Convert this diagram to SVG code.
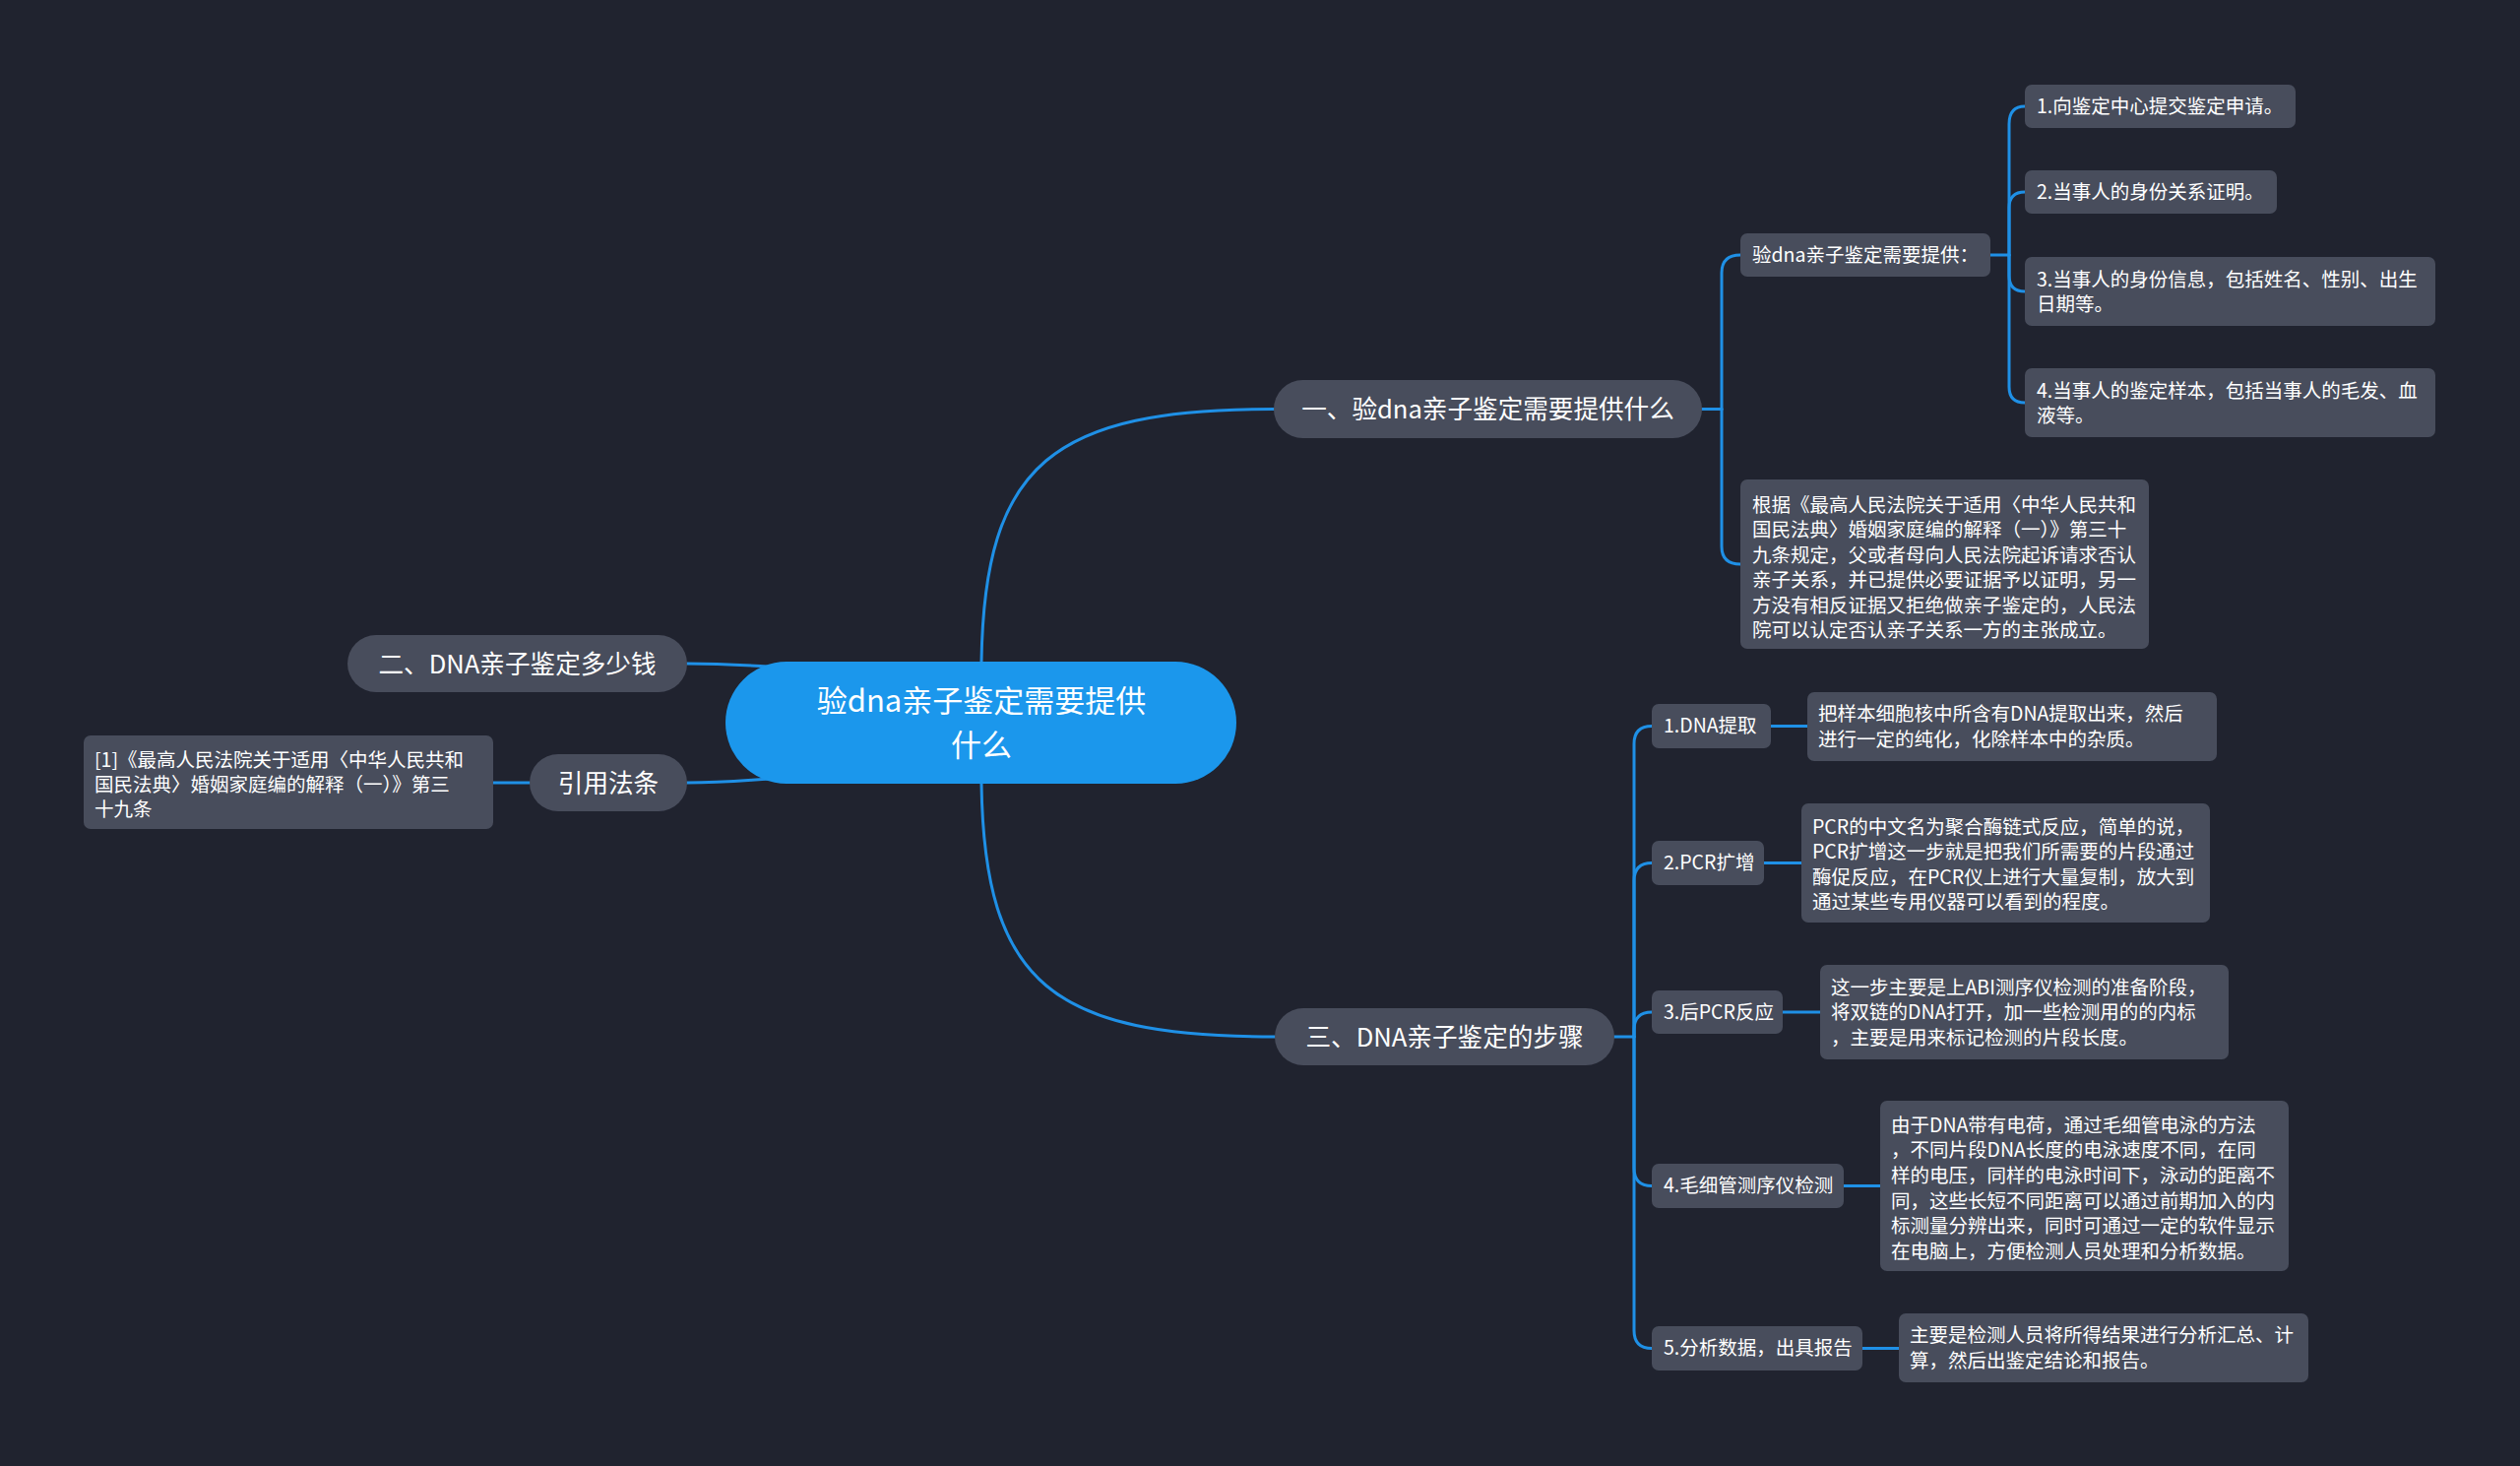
<svg xmlns="http://www.w3.org/2000/svg" width="2560" height="1489" viewBox="0 0 2560 1489">
<style>
text{font-family:"Noto Sans CJK SC","Microsoft YaHei",sans-serif;fill:#ffffff;dominant-baseline:central;transform:translateY(-2px)}
.root rect{fill:#1b97ec}
.l1 rect{fill:#484d5c}
.box rect{fill:#484d5c}
.t-root{font-size:31px;text-anchor:middle}
.t-l1{font-size:25.6px;text-anchor:middle}
.t-s{font-size:19.5px}
.conn path{fill:none;stroke:#1f90e6;stroke-width:3;stroke-linecap:round}
</style>
<rect x="0" y="0" width="2560" height="1489" fill="#20232f"/>
<g id="connectors" class="conn">
<path d="M997,672 C1000,470 1070,415.5 1294,415.5"/>
<path d="M997,796 C1000,1000 1070,1053 1295,1053"/>
<path d="M698,674 C740,674 760,676 800,678"/>
<path d="M698,795 C740,795 760,792 800,790"/>
<path d="M501,795 H538"/>
<path d="M1729,415.5 H1749"/>
<path d="M1749,415.5 V277 Q1749,259 1768,259"/>
<path d="M1749,415.5 V555 Q1749,573 1768,573"/>
<path d="M2022,259 H2041"/>
<path d="M2041,259 V126 Q2041,108 2057,108"/>
<path d="M2041,259 V211 Q2041,195 2057,195"/>
<path d="M2041,259 V280 Q2041,296 2057,296"/>
<path d="M2041,259 V393 Q2041,409 2057,409"/>
<path d="M1640,1053 H1660"/>
<path d="M1660,1053 V755.5 Q1660,737.5 1678,737.5"/>
<path d="M1660,1053 V894.5 Q1660,876.5 1678,876.5"/>
<path d="M1660,1053 V1046 Q1660,1028 1678,1028"/>
<path d="M1660,1053 V1186.5 Q1660,1204.5 1678,1204.5"/>
<path d="M1660,1053 V1351.5 Q1660,1369.5 1678,1369.5"/>
<path d="M1799,737.5 H1836"/>
<path d="M1792,876.5 H1830"/>
<path d="M1811,1028 H1849"/>
<path d="M1873,1204.5 H1910"/>
<path d="M1892,1369.5 H1929"/>
</g>
<g id="root" class="root">
<rect x="737" y="672" width="519" height="124" rx="62"/>
<text class="t-root" x="997" y="711">验dna亲子鉴定需要提供</text>
<text class="t-root" x="997" y="756">什么</text>
</g>
<g id="n1" class="l1">
<rect x="1294" y="386" width="435" height="59" rx="29.5"/>
<text class="t-l1" x="1511.5" y="415.5">一、验dna亲子鉴定需要提供什么</text>
</g>
<g id="n2" class="l1">
<rect x="353" y="645" width="345" height="58" rx="29"/>
<text class="t-l1" x="525.5" y="674">二、DNA亲子鉴定多少钱</text>
</g>
<g id="n3" class="l1">
<rect x="538" y="766" width="160" height="58" rx="29"/>
<text class="t-l1" x="618" y="795">引用法条</text>
</g>
<g id="n4" class="l1">
<rect x="1295" y="1024" width="345" height="58" rx="29"/>
<text class="t-l1" x="1467.5" y="1053">三、DNA亲子鉴定的步骤</text>
</g>
<g id="citation" class="box">
<rect x="85" y="747" width="416" height="95" rx="7"/>
<text class="t-s" x="96" y="772">[1]《最高人民法院关于适用〈中华人民共和</text>
<text class="t-s" x="96" y="797">国民法典〉婚姻家庭编的解释（一）》第三</text>
<text class="t-s" x="96" y="822">十九条</text>
</g>
<g id="c11" class="box">
<rect x="1768" y="237" width="254" height="44" rx="7"/>
<text class="t-s" x="1780" y="259">验dna亲子鉴定需要提供：</text>
</g>
<g id="c12" class="box">
<rect x="1768" y="487" width="415" height="172" rx="7"/>
<text class="t-s" x="1780" y="513">根据《最高人民法院关于适用〈中华人民共和</text>
<text class="t-s" x="1780" y="538.5">国民法典〉婚姻家庭编的解释（一）》第三十</text>
<text class="t-s" x="1780" y="564">九条规定，父或者母向人民法院起诉请求否认</text>
<text class="t-s" x="1780" y="589.5">亲子关系，并已提供必要证据予以证明，另一</text>
<text class="t-s" x="1780" y="615">方没有相反证据又拒绝做亲子鉴定的，人民法</text>
<text class="t-s" x="1780" y="640.5">院可以认定否认亲子关系一方的主张成立。</text>
</g>
<g id="l1" class="box">
<rect x="2057" y="86" width="275" height="44" rx="7"/>
<text class="t-s" x="2069" y="108">1.向鉴定中心提交鉴定申请。</text>
</g>
<g id="l2" class="box">
<rect x="2057" y="173" width="256" height="44" rx="7"/>
<text class="t-s" x="2069" y="195">2.当事人的身份关系证明。</text>
</g>
<g id="l3" class="box">
<rect x="2057" y="261" width="417" height="70" rx="7"/>
<text class="t-s" x="2069" y="284">3.当事人的身份信息，包括姓名、性别、出生</text>
<text class="t-s" x="2069" y="309.5">日期等。</text>
</g>
<g id="l4" class="box">
<rect x="2057" y="374" width="417" height="70" rx="7"/>
<text class="t-s" x="2069" y="397">4.当事人的鉴定样本，包括当事人的毛发、血</text>
<text class="t-s" x="2069" y="422.5">液等。</text>
</g>
<g id="s1" class="box">
<rect x="1678" y="715" width="121" height="45" rx="7"/>
<text class="t-s" x="1690" y="737.5">1.DNA提取</text>
</g>
<g id="s2" class="box">
<rect x="1678" y="854" width="114" height="45" rx="7"/>
<text class="t-s" x="1690" y="876.5">2.PCR扩增</text>
</g>
<g id="s3" class="box">
<rect x="1678" y="1006" width="133" height="44" rx="7"/>
<text class="t-s" x="1690" y="1028">3.后PCR反应</text>
</g>
<g id="s4" class="box">
<rect x="1678" y="1182" width="195" height="45" rx="7"/>
<text class="t-s" x="1690" y="1204.5">4.毛细管测序仪检测</text>
</g>
<g id="s5" class="box">
<rect x="1678" y="1347" width="214" height="45" rx="7"/>
<text class="t-s" x="1690" y="1369.5">5.分析数据，出具报告</text>
</g>
<g id="d1" class="box">
<rect x="1836" y="703" width="416" height="70" rx="7"/>
<text class="t-s" x="1847" y="725.5">把样本细胞核中所含有DNA提取出来，然后</text>
<text class="t-s" x="1847" y="751">进行一定的纯化，化除样本中的杂质。</text>
</g>
<g id="d2" class="box">
<rect x="1830" y="816" width="415" height="121" rx="7"/>
<text class="t-s" x="1841" y="840">PCR的中文名为聚合酶链式反应，简单的说，</text>
<text class="t-s" x="1841" y="865.5">PCR扩增这一步就是把我们所需要的片段通过</text>
<text class="t-s" x="1841" y="891">酶促反应，在PCR仪上进行大量复制，放大到</text>
<text class="t-s" x="1841" y="916.5">通过某些专用仪器可以看到的程度。</text>
</g>
<g id="d3" class="box">
<rect x="1849" y="980" width="415" height="96" rx="7"/>
<text class="t-s" x="1860" y="1003">这一步主要是上ABI测序仪检测的准备阶段，</text>
<text class="t-s" x="1860" y="1028.5">将双链的DNA打开，加一些检测用的的内标</text>
<text class="t-s" x="1860" y="1054">，主要是用来标记检测的片段长度。</text>
</g>
<g id="d4" class="box">
<rect x="1910" y="1118" width="415" height="173" rx="7"/>
<text class="t-s" x="1921" y="1143">由于DNA带有电荷，通过毛细管电泳的方法</text>
<text class="t-s" x="1921" y="1168.7">，不同片段DNA长度的电泳速度不同，在同</text>
<text class="t-s" x="1921" y="1194.4">样的电压，同样的电泳时间下，泳动的距离不</text>
<text class="t-s" x="1921" y="1220.1">同，这些长短不同距离可以通过前期加入的内</text>
<text class="t-s" x="1921" y="1245.8">标测量分辨出来，同时可通过一定的软件显示</text>
<text class="t-s" x="1921" y="1271.5">在电脑上，方便检测人员处理和分析数据。</text>
</g>
<g id="d5" class="box">
<rect x="1929" y="1334" width="416" height="70" rx="7"/>
<text class="t-s" x="1940" y="1356.5">主要是检测人员将所得结果进行分析汇总、计</text>
<text class="t-s" x="1940" y="1382">算，然后出鉴定结论和报告。</text>
</g>
</svg>
